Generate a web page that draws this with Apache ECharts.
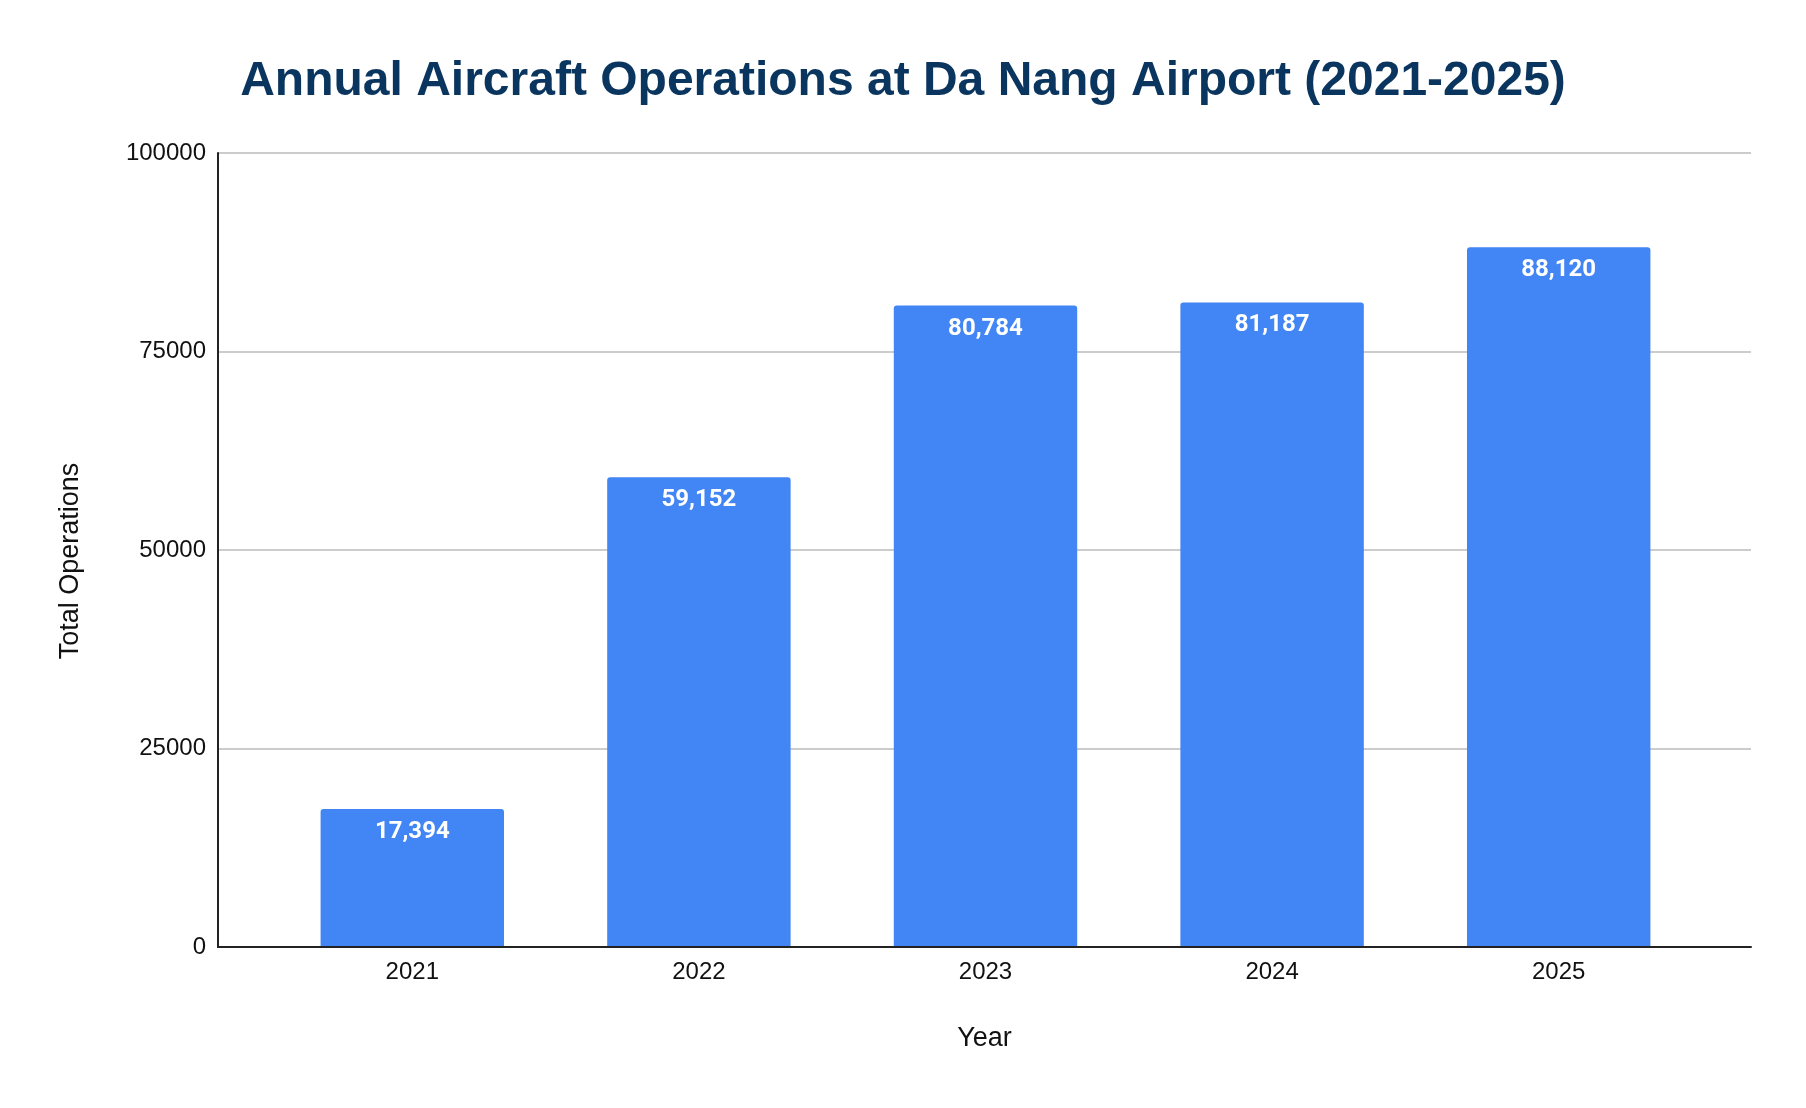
<!DOCTYPE html>
<html>
<head>
<meta charset="utf-8">
<script src="https://cdn.jsdelivr.net/npm/echarts@6/dist/echarts.min.js"></script>
<style>
  html, body { margin: 0; padding: 0; background: #fff; }
  #chart { width: 1806px; height: 1108px; }
</style>
</head>
<body>
<div id="chart"></div>
<script>
  // data
  var years = ['2021', '2022', '2023', '2024', '2025'];
  var operations = [17394, 59152, 80784, 81187, 88120];
  var yTicks = [0, 25000, 50000, 75000, 100000];

  var FONT = 'Liberation Sans, Arial, sans-serif';
  var chart = echarts.init(document.getElementById('chart'));

  // grid 0 is the frame (axis lines, gridlines, y labels),
  // grid 1 is inset a little so the bars sit with padding like the original
  chart.setOption({
    backgroundColor: '#ffffff',
    animation: false,
    title: {
      text: 'Annual Aircraft Operations at Da Nang Airport (2021-2025)',
      left: 'center',
      top: 53,
      textStyle: { fontFamily: FONT, fontSize: 48, fontWeight: 'bold', color: '#0a355e' }
    },
    grid: [
      { left: 218, right: 55, top: 153, bottom: 161 },
      { left: 269, right: 104, top: 153, bottom: 161 }
    ],
    xAxis: [{
      gridIndex: 0,
      type: 'value',
      min: 0,
      max: 1,
      z: 5,
      name: 'Year',
      nameLocation: 'middle',
      nameGap: 78,
      nameTextStyle: { fontFamily: FONT, fontSize: 27, color: '#111' },
      axisLine: { show: true, lineStyle: { color: '#222', width: 2 } },
      axisTick: { show: false },
      axisLabel: { show: false },
      splitLine: { show: false }
    }, {
      gridIndex: 1,
      type: 'category',
      data: years,
      axisLine: { show: false },
      axisTick: { show: false },
      axisLabel: { fontFamily: FONT, fontSize: 24, color: '#111', margin: 13 }
    }],
    yAxis: [{
      gridIndex: 0,
      type: 'value',
      min: yTicks[0],
      max: yTicks[yTicks.length - 1],
      interval: yTicks[1] - yTicks[0],
      name: 'Total Operations',
      nameLocation: 'middle',
      nameGap: 134,
      nameTextStyle: { fontFamily: FONT, fontSize: 27, color: '#111', padding: [0, 22, 0, 0] },
      axisLine: { show: true, lineStyle: { color: '#222', width: 2 } },
      axisTick: { show: false },
      axisLabel: { fontFamily: FONT, fontSize: 24, color: '#111', margin: 12, formatter: function (v) { return String(v); } },
      splitLine: { lineStyle: { color: '#cccccc', width: 2 } }
    }, {
      gridIndex: 1,
      type: 'value',
      min: yTicks[0],
      max: yTicks[yTicks.length - 1],
      show: false,
      splitLine: { show: false }
    }],
    series: [{
      type: 'bar',
      xAxisIndex: 1,
      yAxisIndex: 1,
      data: operations,
      barCategoryGap: '36%',
      itemStyle: { color: '#4285f4', borderRadius: [3, 3, 0, 0] },
      label: {
        show: true,
        position: 'insideTop',
        distance: 11,
        color: '#ffffff',
        fontFamily: 'Roboto, Liberation Sans, sans-serif',
        fontWeight: 'bold',
        fontSize: 24,
        formatter: function (p) { return p.value.toLocaleString('en-US'); }
      }
    }]
  });
</script>
</body>
</html>
